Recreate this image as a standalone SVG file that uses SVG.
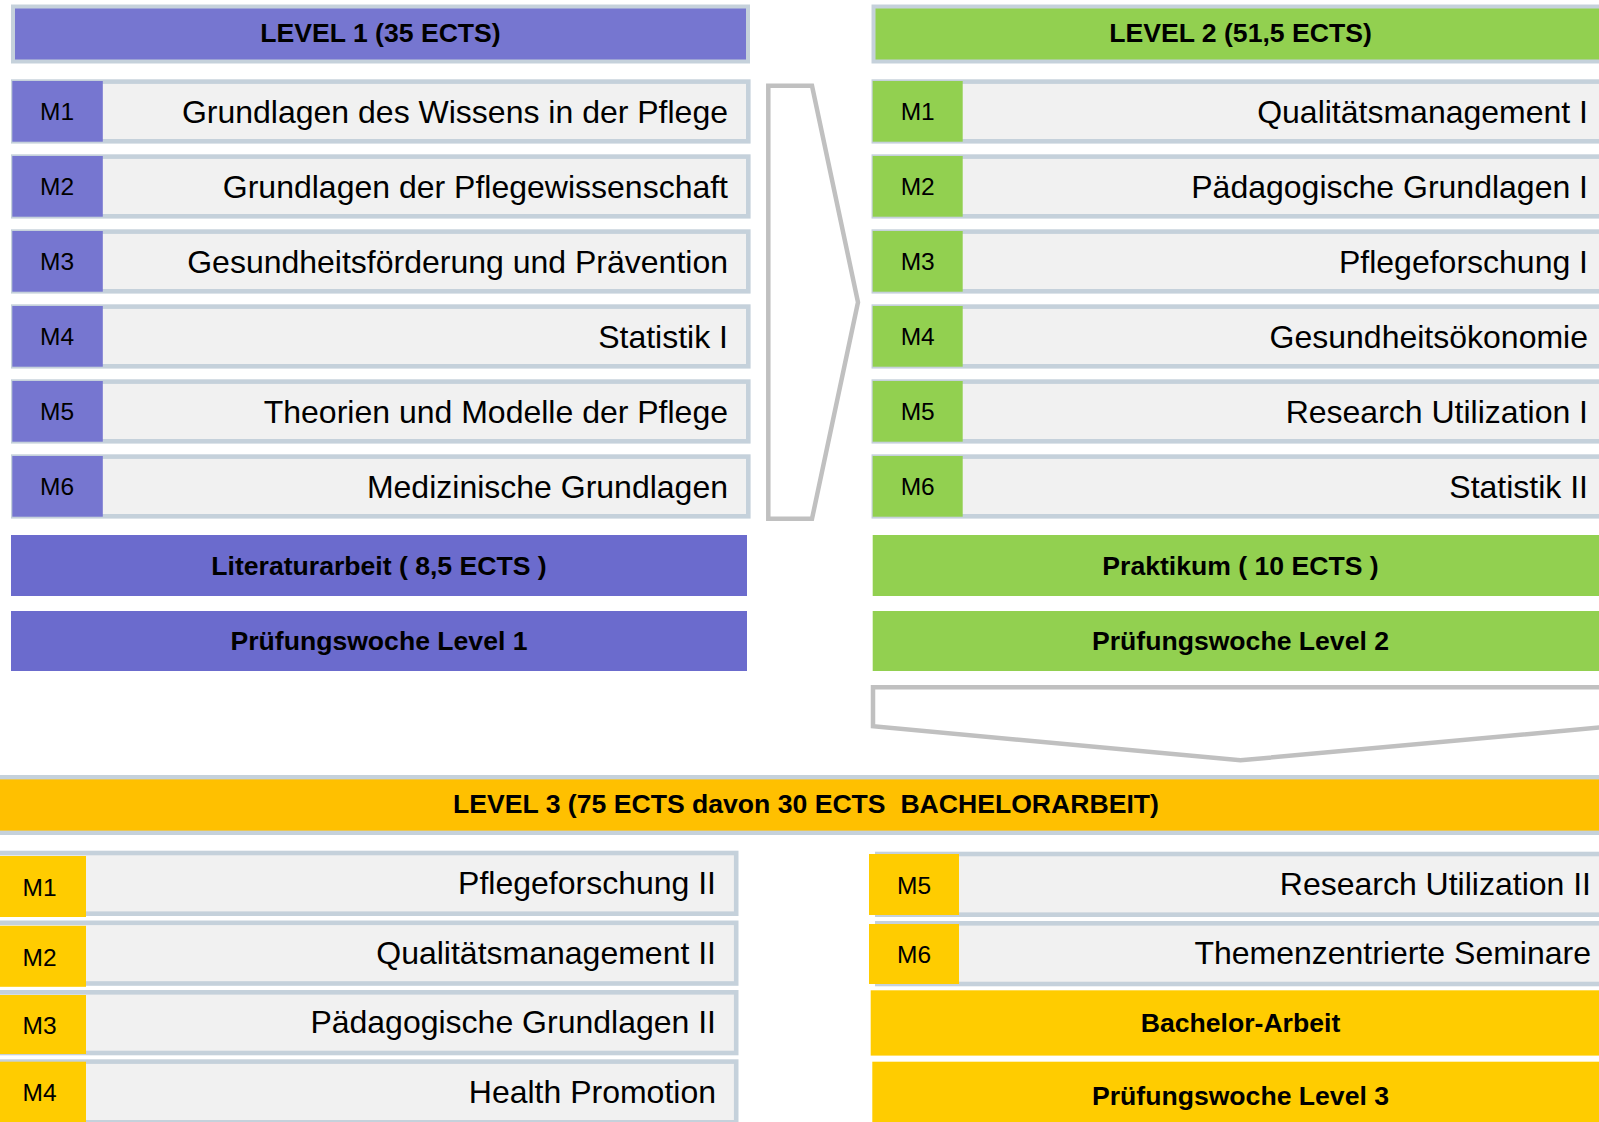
<svg xmlns="http://www.w3.org/2000/svg" width="1599" height="1122" viewBox="0 0 1599 1122">
<style>
text{font-family:"Liberation Sans",Arial,Helvetica,sans-serif;fill:#000}
.hdr{stroke:#c5d1db;stroke-width:4}
.row{fill:#f1f1f1;stroke:#c5d1db;stroke-width:4.6}
.p{fill:#7676d0}.pb{fill:#6b6bcd}
.g{fill:#92d050}
.y{fill:#ffcc00}.yh{fill:#ffc000}
.lbl{font-size:24.5px;text-anchor:middle}
.txt{font-size:32px;text-anchor:end}
.b{font-size:26.6px;font-weight:bold;text-anchor:middle}
.arr{fill:#fff;stroke:#c0c0c0;stroke-width:4.5;stroke-linejoin:miter}
</style>
<rect width="1599" height="1122" fill="#fff"/>

<g id="connectors">
<polygon class="arr" points="768.3,85.8 812,85.8 858,302.3 812,518.8 768.3,518.8"/>
<polygon class="arr" points="873,687.3 1614,687.3 1614,726.2 1240.5,760.3 873,726.2"/>
</g>

<!-- LEVEL 1 -->
<g id="level1-header"><rect class="hdr p" x="13" y="6.5" width="735" height="55"/><text class="b" x="380.5" y="42">LEVEL 1 (35 ECTS)</text></g>
<g id="l1-m1"><rect class="row" x="13.3" y="81.6" width="735" height="59.7"/><rect class="p" x="12.3" y="81" width="90.5" height="60.7"/><text class="lbl" x="57" y="120">M1</text><text class="txt" x="728" y="122.5">Grundlagen des Wissens in der Pflege</text></g>
<g id="l1-m2"><rect class="row" x="13.3" y="156.6" width="735" height="59.7"/><rect class="p" x="12.3" y="156" width="90.5" height="60.7"/><text class="lbl" x="57" y="195">M2</text><text class="txt" x="728" y="197.5">Grundlagen der Pflegewissenschaft</text></g>
<g id="l1-m3"><rect class="row" x="13.3" y="231.6" width="735" height="59.7"/><rect class="p" x="12.3" y="231" width="90.5" height="60.7"/><text class="lbl" x="57" y="270">M3</text><text class="txt" x="728" y="272.5">Gesundheitsförderung und Prävention</text></g>
<g id="l1-m4"><rect class="row" x="13.3" y="306.6" width="735" height="59.7"/><rect class="p" x="12.3" y="306" width="90.5" height="60.7"/><text class="lbl" x="57" y="345">M4</text><text class="txt" x="728" y="347.5">Statistik I</text></g>
<g id="l1-m5"><rect class="row" x="13.3" y="381.6" width="735" height="59.7"/><rect class="p" x="12.3" y="381" width="90.5" height="60.7"/><text class="lbl" x="57" y="420">M5</text><text class="txt" x="728" y="422.5">Theorien und Modelle der Pflege</text></g>
<g id="l1-m6"><rect class="row" x="13.3" y="456.6" width="735" height="59.7"/><rect class="p" x="12.3" y="456" width="90.5" height="60.7"/><text class="lbl" x="57" y="495">M6</text><text class="txt" x="728" y="497.5">Medizinische Grundlagen</text></g>
<g id="l1-literatur"><rect class="pb" x="11" y="535" width="736" height="61"/><text class="b" x="379" y="575">Literaturarbeit ( 8,5 ECTS )</text></g>
<g id="l1-pruefung"><rect class="pb" x="11" y="611" width="736" height="60"/><text class="b" x="379" y="650">Prüfungswoche Level 1</text></g>

<!-- LEVEL 2 -->
<g id="level2-header"><rect class="hdr g" x="873.5" y="6.5" width="736" height="55"/><text class="b" x="1240.5" y="42">LEVEL 2 (51,5 ECTS)</text></g>
<g id="l2-m1"><rect class="row" x="873.8" y="81.6" width="737" height="59.7"/><rect class="g" x="872.7" y="81" width="90" height="60.7"/><text class="lbl" x="917.7" y="120">M1</text><text class="txt" x="1588" y="122.5">Qualitätsmanagement I</text></g>
<g id="l2-m2"><rect class="row" x="873.8" y="156.6" width="737" height="59.7"/><rect class="g" x="872.7" y="156" width="90" height="60.7"/><text class="lbl" x="917.7" y="195">M2</text><text class="txt" x="1588" y="197.5">Pädagogische Grundlagen I</text></g>
<g id="l2-m3"><rect class="row" x="873.8" y="231.6" width="737" height="59.7"/><rect class="g" x="872.7" y="231" width="90" height="60.7"/><text class="lbl" x="917.7" y="270">M3</text><text class="txt" x="1588" y="272.5">Pflegeforschung I</text></g>
<g id="l2-m4"><rect class="row" x="873.8" y="306.6" width="737" height="59.7"/><rect class="g" x="872.7" y="306" width="90" height="60.7"/><text class="lbl" x="917.7" y="345">M4</text><text class="txt" x="1588" y="347.5">Gesundheitsökonomie</text></g>
<g id="l2-m5"><rect class="row" x="873.8" y="381.6" width="737" height="59.7"/><rect class="g" x="872.7" y="381" width="90" height="60.7"/><text class="lbl" x="917.7" y="420">M5</text><text class="txt" x="1588" y="422.5">Research Utilization I</text></g>
<g id="l2-m6"><rect class="row" x="873.8" y="456.6" width="737" height="59.7"/><rect class="g" x="872.7" y="456" width="90" height="60.7"/><text class="lbl" x="917.7" y="495">M6</text><text class="txt" x="1588" y="497.5">Statistik II</text></g>
<g id="l2-praktikum"><rect class="g" x="872.7" y="535" width="740" height="61"/><text class="b" x="1240.5" y="575">Praktikum ( 10 ECTS )</text></g>
<g id="l2-pruefung"><rect class="g" x="872.7" y="611" width="740" height="60"/><text class="b" x="1240.5" y="650">Prüfungswoche Level 2</text></g>

<!-- LEVEL 3 -->
<g id="level3-header"><rect class="hdr yh" x="-5" y="777.2" width="1610" height="55.6" style="stroke-width:4.4"/><text class="b" x="806" y="813" xml:space="preserve">LEVEL 3 (75 ECTS davon 30 ECTS  BACHELORARBEIT)</text></g>
<g id="l3-m1"><rect class="row" x="-5" y="853" width="741.2" height="60.7"/><rect class="y" x="-8" y="856" width="94" height="61"/><text class="lbl" x="39.5" y="896">M1</text><text class="txt" x="716" y="894">Pflegeforschung II</text></g>
<g id="l3-m2"><rect class="row" x="-5" y="922.8" width="741.2" height="60.7"/><rect class="y" x="-8" y="925.8" width="94" height="61"/><text class="lbl" x="39.5" y="965.5">M2</text><text class="txt" x="716" y="963.8">Qualitätsmanagement II</text></g>
<g id="l3-m3"><rect class="row" x="-5" y="992.3" width="741.2" height="60.7"/><rect class="y" x="-8" y="995" width="94" height="59"/><text class="lbl" x="39.5" y="1033.5">M3</text><text class="txt" x="716" y="1033.3">Pädagogische Grundlagen II</text></g>
<g id="l3-m4"><rect class="row" x="-5" y="1061.6" width="741.2" height="60.7"/><rect class="y" x="-8" y="1061.7" width="94" height="61"/><text class="lbl" x="39.5" y="1100.5">M4</text><text class="txt" x="716" y="1102.5">Health Promotion</text></g>
<g id="l3-m5"><rect class="row" x="877.3" y="854" width="737" height="60.7"/><rect class="y" x="869" y="854" width="90" height="61"/><text class="lbl" x="914" y="893.5">M5</text><text class="txt" x="1591" y="894.9">Research Utilization II</text></g>
<g id="l3-m6"><rect class="row" x="877.3" y="923.3" width="737" height="60.7"/><rect class="y" x="869" y="924" width="90" height="60"/><text class="lbl" x="914" y="963">M6</text><text class="txt" x="1591" y="964.2">Themenzentrierte Seminare</text></g>
<g id="l3-bachelor"><rect class="y" x="870.7" y="990.3" width="740" height="65.3"/><text class="b" x="1240.5" y="1032">Bachelor-Arbeit</text></g>
<g id="l3-pruefung"><rect class="y" x="872.3" y="1061.7" width="740" height="70"/><text class="b" x="1240.5" y="1104.6">Prüfungswoche Level 3</text></g>
</svg>
